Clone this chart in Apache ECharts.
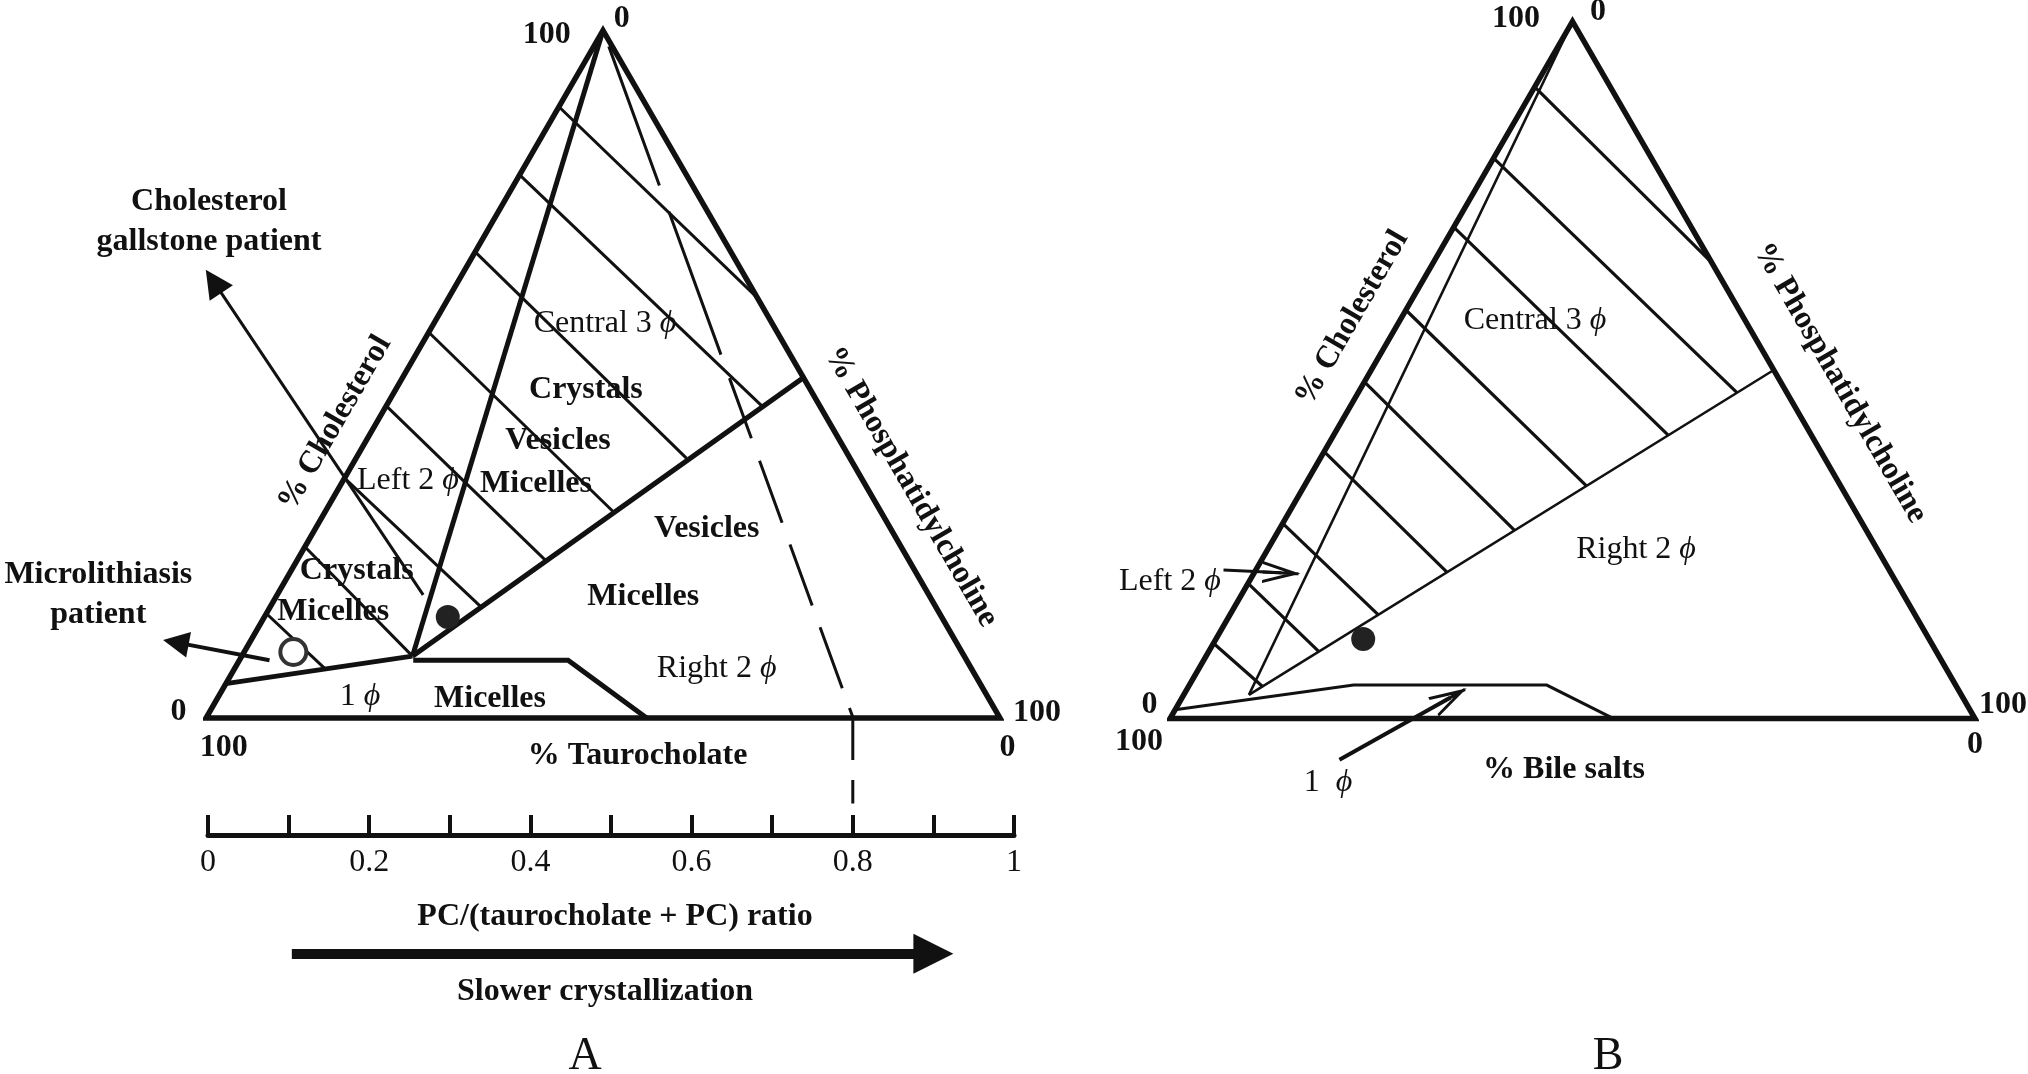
<!DOCTYPE html>
<html>
<head>
<meta charset="utf-8">
<title>Cholesterol / phospholipid / bile salt phase diagrams</title>
<script src="https://cdn.jsdelivr.net/npm/echarts@6/dist/echarts.min.js"></script>
<style>
  html, body { margin: 0; padding: 0; background: #fff; }
  #chart { width: 2028px; height: 1074px; }
</style>
</head>
<body>
<div id="chart"></div>
<script>
// every ternary point is [% cholesterol, % phosphatidylcholine]; bile salt is the rest
const corners = [[0, 0], [0, 100], [100, 0]];

// panel A - taurocholate system
const pivotA = [9, 21.5];
const centralLineA = [[100, 0], pivotA];
const leftBoundaryA = [[5, 0], pivotA];
const rightBoundaryA = [pivotA, [49.5, 50.5]];
const onePhaseA = [[8.4, 21.9], [8.4, 41.4], [0, 55.5]];
const tieLinesA = [
  [[88.9, 0], [61.1, 38.9]],
  [[79.0, 0], [45.4, 47.3]],
  [[67.8, 0], [37.8, 41.6]],
  [[56.1, 0], [30.0, 36.3]],
  [[45.4, 0], [23.0, 31.2]],
  [[34.9, 0], [16.2, 26.5]],
  [[24.9, 0], pivotA],
  [[15.2, 0], [7.1, 11.5]]
];
const dashedBaseA = 81.5;          // PC % where the dashed ratio line meets the base
const gallstonePoint = [14.7, 23.1];
const microlithPoint = [9.6, 6.2];
const gallstoneArrow = [[17.9, 18.4], [63.5, -30.8]];
const microlithArrow = [[8.4, 3.8], [11.0, -9.3]];

// panel B - bile salt system
const pivotB = [3.4, 8.1];
const thinLineB = [[100, 0], pivotB];
const rightBoundaryB = [pivotB, [50, 50]];
const lowerBoundaryB = [[1.3, 0.2], [4.8, 20.4], [4.8, 44.4], [0, 55.1]];
const tieLinesB = [
  [[90.6, 0], [65.4, 34.6]],
  [[80.4, 0], [46.8, 47.0]],
  [[70.5, 0], [40.7, 41.5]],
  [[58.6, 0], [33.4, 35.0]],
  [[48.3, 0], [27.0, 29.3]],
  [[38.3, 0], [21.0, 23.9]],
  [[28.0, 0], [14.9, 18.4]],
  [[19.4, 0], [9.6, 13.7]],
  [[10.8, 0], [4.6, 9.2]]
];
const pointB = [11.4, 18.3];
const left2Arrow = [[21.3, -4.0], [20.9, 3.4]];
const onePhaseArrow = [[-5.9, 24.0], [3.0, 33.3]];

// PC/(taurocholate + PC) ratio scale
const ratioLabels = [0, 0.2, 0.4, 0.6, 0.8, 1];
const dashedRatio = 0.8;
const slowerArrow = [0.104, 0.9];

const SQ = Math.sqrt(3) / 2;
const tern = p => [p[1] + p[0] / 2, p[0] * SQ];
const INK = '#111';
const FONT = '"Liberation Serif", "Times New Roman", serif';
const chevron = 'path://M0,0M38,38M19,0L30,38L27,38L19,11L11,38L8,38ZM17.5,2L20.5,2L20.5,38L17.5,38Z';

function path(ax, pts, width, extra) {
  return Object.assign({
    type: 'line', xAxisIndex: ax, yAxisIndex: ax,
    data: pts.map(tern), symbol: 'none', clip: false, silent: true,
    lineStyle: { color: INK, width: width, join: 'miter', cap: 'butt' }
  }, extra || {});
}

function arrow(ax, pts, width, symbol, size) {
  return {
    type: 'lines', coordinateSystem: 'cartesian2d', xAxisIndex: ax, yAxisIndex: ax,
    clip: false, silent: true, symbol: ['none', symbol], symbolSize: size,
    lineStyle: { color: INK, width: width, opacity: 1, curveness: 0 },
    data: [{ coords: pts }]
  };
}

function txt(x, y, text, opt) {
  opt = opt || {};
  const size = opt.size || 32;
  return {
    type: 'text', x: x, y: y, rotation: opt.rot || 0, silent: true, z: 100,
    style: {
      text: text, x: 0, y: 0, align: 'center', verticalAlign: 'middle',
      fontFamily: FONT, fontSize: size, fontWeight: opt.bold ? 'bold' : 'normal', fill: INK,
      rich: { p: { fontFamily: FONT, fontSize: size, fontStyle: 'italic', fill: INK } }
    }
  };
}

const outline = [corners[0], corners[1], corners[2], corners[0], corners[1]];
const series = [];

// panel A
series.push(path(0, outline, 5.5));
series.push(path(0, centralLineA, 5));
series.push(path(0, leftBoundaryA, 5));
series.push(path(0, rightBoundaryA, 5));
series.push(path(0, onePhaseA, 5));
tieLinesA.forEach(t => series.push(path(0, t, 3)));
series.push(path(0, [[100, 0], [0, dashedBaseA]], 3, {
  lineStyle: { color: INK, width: 3, type: [0, 17, 148, 28, 152, 25, 64, 24, 66, 23, 65, 23, 65, 21, 100] }
}));
series.push(arrow(0, gallstoneArrow.map(tern), 3, 'triangle', 28));
series.push(arrow(0, microlithArrow.map(tern), 4, 'triangle', 26));
series.push({
  type: 'scatter', xAxisIndex: 0, yAxisIndex: 0, silent: true, z: 5,
  data: [tern(gallstonePoint)], symbolSize: 24, itemStyle: { color: '#222', opacity: 1 }
});
series.push({
  type: 'scatter', xAxisIndex: 0, yAxisIndex: 0, silent: true, z: 5,
  data: [tern(microlithPoint)], symbolSize: 26,
  itemStyle: { color: '#fff', borderColor: '#333', borderWidth: 4, opacity: 1 }
});

// panel B
series.push(path(1, outline, 5.5));
series.push(path(1, thinLineB, 2.5));
series.push(path(1, rightBoundaryB, 2.5));
series.push(path(1, lowerBoundaryB, 3));
tieLinesB.forEach(t => series.push(path(1, t, 3.2)));
series.push(arrow(1, left2Arrow.map(tern), 3, chevron, 38));
series.push(arrow(1, onePhaseArrow.map(tern), 4, chevron, 38));
series.push({
  type: 'scatter', xAxisIndex: 1, yAxisIndex: 1, silent: true, z: 5,
  data: [tern(pointB)], symbolSize: 24, itemStyle: { color: '#222', opacity: 1 }
});

// ratio scale: dashed continuation and the crystallization arrow
series.push({
  type: 'line', xAxisIndex: 2, yAxisIndex: 2, symbol: 'none', clip: false, silent: true,
  data: [[dashedRatio, 1], [dashedRatio, 0.27]],
  lineStyle: { color: INK, width: 3, type: [42, 20, 100] }
});
series.push(arrow(2, [[slowerArrow[0], -1.015], [slowerArrow[1], -1.015]], 10, 'triangle', 40));

const hiddenAxis = (grid, max) => ({
  type: 'value', gridIndex: grid, min: 0, max: max, show: false
});

const option = {
  animation: false,
  backgroundColor: '#fff',
  grid: [
    { left: 206, top: 30.4, width: 794, height: 794 * SQ, outerBoundsMode: 'none' },
    { left: 1170, top: 21.4, width: 805, height: 805 * SQ, outerBoundsMode: 'none' },
    { left: 208, top: 718, width: 806, height: 117, outerBoundsMode: 'none' }
  ],
  xAxis: [
    hiddenAxis(0, 100),
    hiddenAxis(1, 100),
    {
      type: 'value', gridIndex: 2, min: 0, max: 1, interval: 0.1, position: 'bottom',
      axisLine: { show: true, onZero: false, lineStyle: { color: INK, width: 5 } },
      axisTick: { show: true, inside: true, length: 20, lineStyle: { color: INK, width: 4 } },
      axisLabel: {
        show: true, margin: 12, color: INK, fontFamily: FONT, fontSize: 32,
        formatter: v => ratioLabels.some(l => Math.abs(l - v) < 1e-6) ? String(+(+v).toFixed(1)) : ''
      },
      splitLine: { show: false }
    }
  ],
  yAxis: [
    hiddenAxis(0, 100 * SQ),
    hiddenAxis(1, 100 * SQ),
    hiddenAxis(2, 1)
  ],
  graphic: { elements: [
    // panel A
    txt(546.7, 34.3, '100', { bold: true }),
    txt(621.7, 18.3, '0', { bold: true }),
    txt(178.5, 712, '0', { bold: true }),
    txt(223.8, 747.6, '100', { bold: true }),
    txt(1037, 712.6, '100', { bold: true }),
    txt(1007.6, 747.6, '0', { bold: true }),
    txt(637.6, 755.3, '% Taurocholate', { bold: true }),
    txt(335, 423, '% Cholesterol', { bold: true, rot: Math.PI / 3 }),
    txt(911, 487, '% Phosphatidylcholine', { bold: true, rot: -Math.PI / 3 }),
    txt(209, 201.7, 'Cholesterol', { bold: true }),
    txt(209, 241.7, 'gallstone patient', { bold: true }),
    txt(98.3, 575, 'Microlithiasis', { bold: true }),
    txt(98.3, 615, 'patient', { bold: true }),
    txt(605, 323.8, 'Central 3 {p|ϕ}'),
    txt(585.9, 390, 'Crystals', { bold: true }),
    txt(558, 441, 'Vesicles', { bold: true }),
    txt(536, 483.7, 'Micelles', { bold: true }),
    txt(408, 481, 'Left 2 {p|ϕ}'),
    txt(356.7, 571, 'Crystals', { bold: true }),
    txt(333.3, 611.7, 'Micelles', { bold: true }),
    txt(360, 696.7, '1 {p|ϕ}'),
    txt(490, 698.3, 'Micelles', { bold: true }),
    txt(706.7, 528.3, 'Vesicles', { bold: true }),
    txt(643.3, 596.7, 'Micelles', { bold: true }),
    txt(716.7, 668.3, 'Right 2 {p|ϕ}'),
    txt(615, 917, 'PC/(taurocholate + PC) ratio', { bold: true }),
    txt(605, 992, 'Slower crystallization', { bold: true }),
    txt(585, 1057, 'A', { size: 46 }),
    // panel B
    txt(1516, 19, '100', { bold: true }),
    txt(1598, 11.5, '0', { bold: true }),
    txt(1149.5, 705, '0', { bold: true }),
    txt(1139, 742, '100', { bold: true }),
    txt(2003, 705, '100', { bold: true }),
    txt(1975, 745, '0', { bold: true }),
    txt(1564, 770, '% Bile salts', { bold: true }),
    txt(1352, 318, '% Cholesterol', { bold: true, rot: Math.PI / 3 }),
    txt(1840, 383, '% Phosphatidylcholine', { bold: true, rot: -Math.PI / 3 }),
    txt(1535, 321, 'Central 3 {p|ϕ}'),
    txt(1636, 550, 'Right 2 {p|ϕ}'),
    txt(1170, 582, 'Left 2 {p|ϕ}'),
    txt(1328, 783, '1  {p|ϕ}'),
    txt(1608, 1057, 'B', { size: 46 })
  ] },
  series: series
};

const chart = echarts.init(document.getElementById('chart'), null, { renderer: 'canvas' });
chart.setOption(option);
</script>
</body>
</html>
